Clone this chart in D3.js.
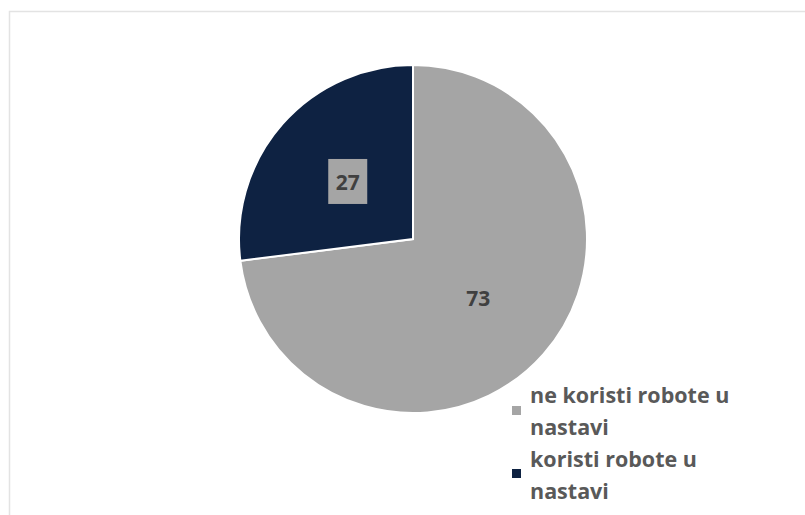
<!DOCTYPE html>
<html><head><meta charset="utf-8">
<script src="https://cdn.jsdelivr.net/npm/d3@7"></script>
<style>html,body{margin:0;padding:0;background:#fff;}</style>
</head><body>
<svg id="c" width="805" height="515"></svg>
<script>
const categories = ["ne koristi robote u nastavi", "koristi robote u nastavi"];
const values = [73, 27];
const legendLines = [["ne koristi robote u", "nastavi"], ["koristi robote u", "nastavi"]];
const colors = ["#a5a5a5", "#0e2242"];

const svg = d3.select("#c");
// frame
svg.append("rect").attr("x", 9.5).attr("y", 11.5).attr("width", 820).attr("height", 520)
  .attr("fill", "none").attr("stroke", "#e3e3e3").attr("stroke-width", 1.5);

const cx = 413, cy = 239, r = 174;
const pie = d3.pie().sort(null).value(d => d)(values);
const arc = d3.arc().innerRadius(0).outerRadius(r);
const labelArc = d3.arc().innerRadius(r * 0.5).outerRadius(r * 0.5);
const g = svg.append("g").attr("transform", `translate(${cx},${cy})`);
g.selectAll("path").data(pie).enter().append("path")
  .attr("d", arc).attr("fill", (d, i) => colors[i])
  .attr("stroke", "#fff").attr("stroke-width", 2).attr("stroke-linejoin", "miter");

const font = "'Open Sans', sans-serif";
pie.forEach((d, i) => {
  const [x, y] = labelArc.centroid(d);
  if (i === 1) {
    g.append("rect").attr("x", x - 19.5).attr("y", y - 22.5).attr("width", 39).attr("height", 45)
      .attr("fill", colors[0]);
  }
  g.append("text").attr("x", x).attr("y", y + 1).attr("text-anchor", "middle")
    .attr("dominant-baseline", "central")
    .attr("font-family", font).attr("font-weight", 700).attr("font-size", 21)
    .attr("fill", "#404040").text(values[i]);
});

// legend
const lg = svg.append("g");
const itemY = [403, 467];
legendLines.forEach((lines, i) => {
  lg.append("rect").attr("x", 512).attr("y", itemY[i] + (i === 0 ? 3 : 2)).attr("width", 9).attr("height", 9)
    .attr("fill", colors[i]);
  lines.forEach((t, j) => {
    lg.append("text").attr("x", 530).attr("y", itemY[i] + j * 32)
      .attr("font-family", font).attr("font-weight", 700).attr("font-size", 21.5)
      .attr("fill", "#595959").text(t);
  });
});
</script>
</body></html>
